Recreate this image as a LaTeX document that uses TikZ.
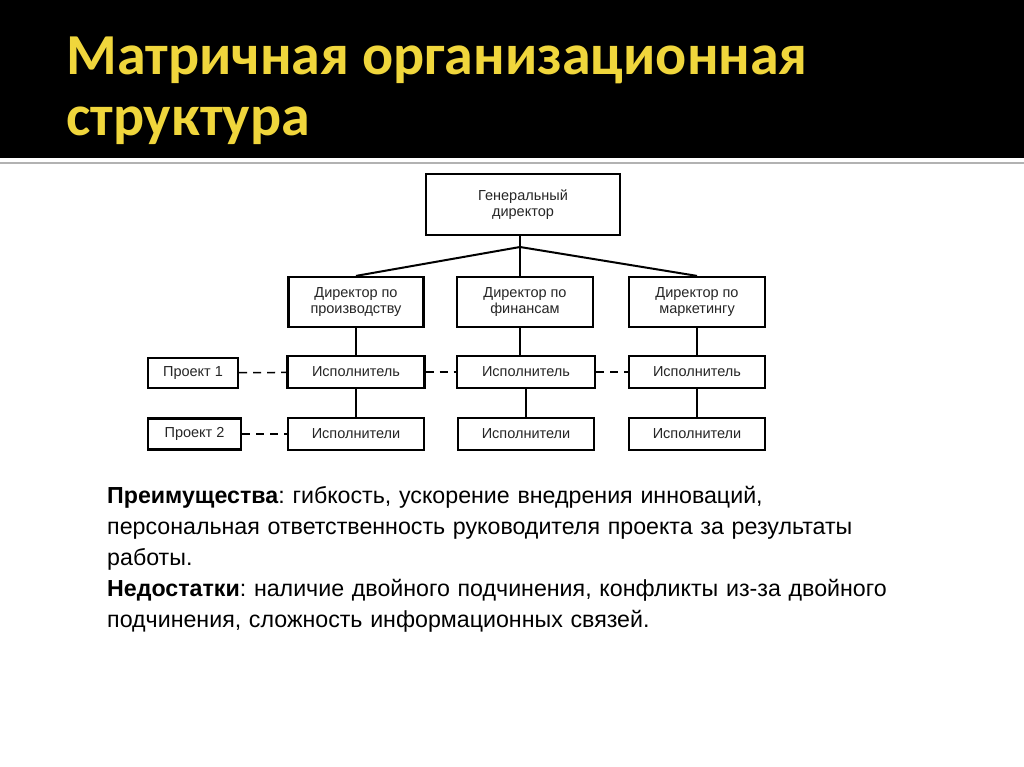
\documentclass[tikz,border=0pt]{standalone}
\usepackage{fontspec}
\setmainfont{Liberation Sans}
\newfontfamily\titlefont{Carlito}
\begin{document}
\frenchspacing
\begin{tikzpicture}[x=1pt,y=-1pt,
  bx/.style={draw=black,line width=2.2pt,align=center,font=\fontsize{14.5}{16}\selectfont,text=black!85,inner sep=0pt},
  ln/.style={line width=2pt},
  dl/.style={line width=1.5pt,dash pattern=on 8pt off 6pt},
  ttl/.style={anchor=base west,text={rgb,255:red,240;green,214;blue,60},font=\titlefont\bfseries\fontsize{58}{70}\selectfont}]
\useasboundingbox (0,0) rectangle (1024,767);
\fill[black] (0,0) rectangle (1024,158);
\fill[white] (0,158) rectangle (1024,767);
\draw[gray!60,line width=1.5pt] (0,163) -- (1024,163);
\node[ttl] (t1) at (63,75) {Матричная организационная};
\node[ttl] (t2) at (63,136) {структура};
\node[bx,minimum width=194,minimum height=61] (gd) at (523,204.5) {Генеральный\\директор};
\node[bx,minimum width=135,minimum height=50] (d1) at (356,302) {Директор по\\производству};
\node[bx,minimum width=136,minimum height=50] (d2) at (525,302) {Директор по\\финансам};
\node[bx,minimum width=136,minimum height=50] (d3) at (697,302) {Директор по\\маркетингу};
\node[bx,minimum width=137,minimum height=32] (e1) at (356,372) {Исполнитель};
\node[bx,minimum width=138,minimum height=32] (e2) at (526,372) {Исполнитель};
\node[bx,minimum width=136,minimum height=32] (e3) at (697,372) {Исполнитель};
\node[bx,minimum width=136,minimum height=32] (f1) at (356,434) {Исполнители};
\node[bx,minimum width=136,minimum height=32] (f2) at (526,434) {Исполнители};
\node[bx,minimum width=136,minimum height=32] (f3) at (697,434) {Исполнители};
\node[bx,minimum width=90,minimum height=30] (p1) at (193,373) {Проект 1};
\node[bx,minimum width=93,minimum height=31] (p2) at (194.5,434) {Проект 2};
\coordinate (j) at (520,247);
\draw[ln] (gd.south -| j) -- (j);
\draw[ln] (j) -- (d1.north);
\draw[ln] (j) -- (d2.north -| j);
\draw[ln] (j) -- (d3.north);
\foreach \a/\b in {d1/e1,e1/f1,e2/f2,d3/e3,e3/f3}{\draw[ln] (\a) -- (\b);}
\draw[ln] (d2.south -| j) -- (e2.north -| j);
\draw[dl] (p1) -- (e1);
\draw[dl] (p2.east) -- (f1.west |- p2.east);
\draw[dl] (e1) -- (e2);
\draw[dl] (e2) -- (e3);
\node[anchor=north west,align=left,text width=880,font=\fontsize{23.2}{31}\selectfont,inner sep=0pt] (txt) at (107,486) {\textbf{Преимущества}: гибкость, ускорение внедрения инноваций,\\персональная ответственность руководителя проекта за результаты\\работы.\\\textbf{Недостатки}: наличие двойного подчинения, конфликты из-за двойного\\подчинения, сложность информационных связей.};
\end{tikzpicture}
\end{document}
